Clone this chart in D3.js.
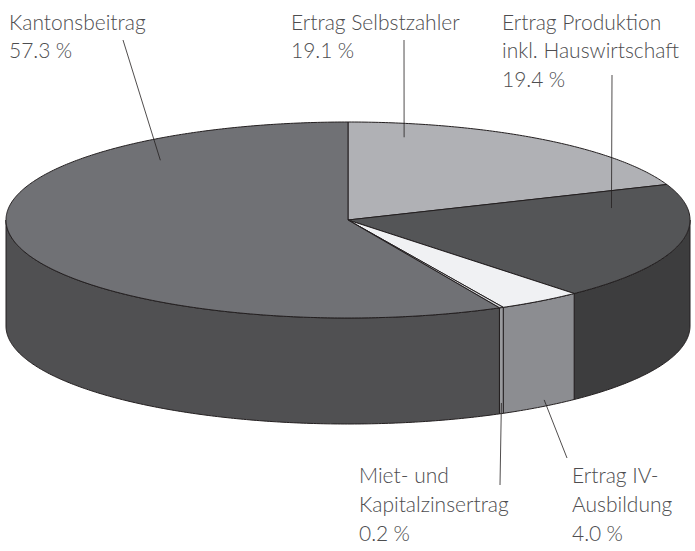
<!DOCTYPE html>
<html>
<head>
<meta charset="utf-8">
<script src="https://cdn.jsdelivr.net/npm/d3@7"></script>
<style>
  html, body { margin: 0; padding: 0; background: #fff; }
  svg { display: block; }
  .lbl { font-family: Lato, "Open Sans", sans-serif; font-weight: 300; font-size: 21px; fill: #4d4d4f; }
</style>
</head>
<body>
<div id="chart"></div>
<script>
// slice data, clockwise from 12 o'clock
const categories = ["Ertrag Selbstzahler", "Ertrag Produktion inkl. Hauswirtschaft", "Ertrag IV-Ausbildung", "Miet- und Kapitalzinsertrag", "Kantonsbeitrag"];
const values = [19.1, 19.4, 4.0, 0.2, 57.3];
const valueLabels = ["19.1\u202F%", "19.4\u202F%", "4.0\u202F%", "0.2\u202F%", "57.3\u202F%"];
const labelLines = [
    ["Ertrag Selbstzahler"],
    ["Ertrag Produktion", "inkl. Hauswirtschaft"],
    ["Ertrag IV-", "Ausbildung"],
    ["Miet- und", "Kapitalzinsertrag"],
    ["Kantonsbeitrag"]
];

const topColors  = ["#b0b1b5", "#545557", "#f0f1f3", "#cfd0d2", "#707175"];
const sideColors = ["#8a8b8f", "#3d3d3e", "#8c8d91", "#9a9b9e", "#505052"];

const width = 695;
const height = 551;
const cx = 348, cy = 220, rx = 342, ry = 98, depth = 106;
const lineGap = 28.8;

// label layout: text anchor + leader line (angle in degrees, radius fraction / depth fraction)
const layout = [
    { x: 291, y: 29.5, anchor: { deg: 11, r: 0.86 }, end: [404, 40] },
    { x: 502, y: 29.5, anchor: { deg: 81, r: 0.78 }, end: [612, 75] },
    { x: 572, y: 483, anchor: { deg: 145, side: 0.94 }, end: [567, 458] },
    { x: 359, y: 483, anchor: { deg: 153.35, side: 0.9 }, end: [500, 485] },
    { x: 9, y: 29.5, anchor: { deg: 318, r: 0.82 }, end: [123, 40] }
];

const svg = d3.select("#chart")
    .append("svg")
    .attr("width", width)
    .attr("height", height);

const xs = d3.scaleLinear().domain([-1, 1]).range([cx - rx, cx + rx]);
const ys = d3.scaleLinear().domain([-1, 1]).range([cy - ry, cy + ry]);

function pt(a, r, dz) {
    return [xs(r * Math.sin(a)), ys(-r * Math.cos(a)) + (dz || 0)];
}

function arcPts(a0, a1, dz) {
    const n = Math.max(2, Math.ceil(Math.abs(a1 - a0) / 0.01));
    return d3.range(n + 1).map(i => pt(a0 + (a1 - a0) * i / n, 1, dz));
}

const line = d3.line();

const pie = d3.pie().sort(null).value(d => d)(values);

// sides (front half only: angles between PI/2 and 3PI/2)
const sides = svg.append("g");
pie.forEach((s, i) => {
    const a0 = Math.max(s.startAngle, Math.PI / 2);
    const a1 = Math.min(s.endAngle, 3 * Math.PI / 2);
    if (a1 <= a0) return;
    const pts = arcPts(a0, a1, 0).concat(arcPts(a1, a0, depth));
    sides.append("path")
        .attr("d", line(pts) + "Z")
        .attr("fill", sideColors[i])
        .attr("stroke", "#231f20")
        .attr("stroke-width", 1)
        .attr("stroke-linejoin", "round");
});

// tops
const tops = svg.append("g");
pie.forEach((s, i) => {
    const pts = [[cx, cy]].concat(arcPts(s.startAngle, s.endAngle, 0));
    tops.append("path")
        .attr("d", line(pts) + "Z")
        .attr("fill", topColors[i])
        .attr("stroke", "#231f20")
        .attr("stroke-width", 1)
        .attr("stroke-linejoin", "round");
});

// leader lines
const deg = Math.PI / 180;
layout.forEach((l, i) => {
    let p;
    if (l.anchor.side !== undefined) {
        p = pt(l.anchor.deg * deg, 1, depth * l.anchor.side);
    } else {
        p = pt(l.anchor.deg * deg, l.anchor.r, 0);
    }
    svg.append("line")
        .attr("x1", p[0]).attr("y1", p[1])
        .attr("x2", l.end[0]).attr("y2", l.end[1])
        .attr("stroke", "#231f20")
        .attr("stroke-width", 0.8);
});

// labels
layout.forEach((l, i) => {
    const lines = labelLines[i].concat([valueLabels[i]]);
    const t = svg.append("text").attr("class", "lbl");
    lines.forEach((s, k) => {
        t.append("tspan")
            .attr("x", l.x)
            .attr("y", l.y + k * lineGap)
            .text(s);
    });
});
</script>
</body>
</html>
